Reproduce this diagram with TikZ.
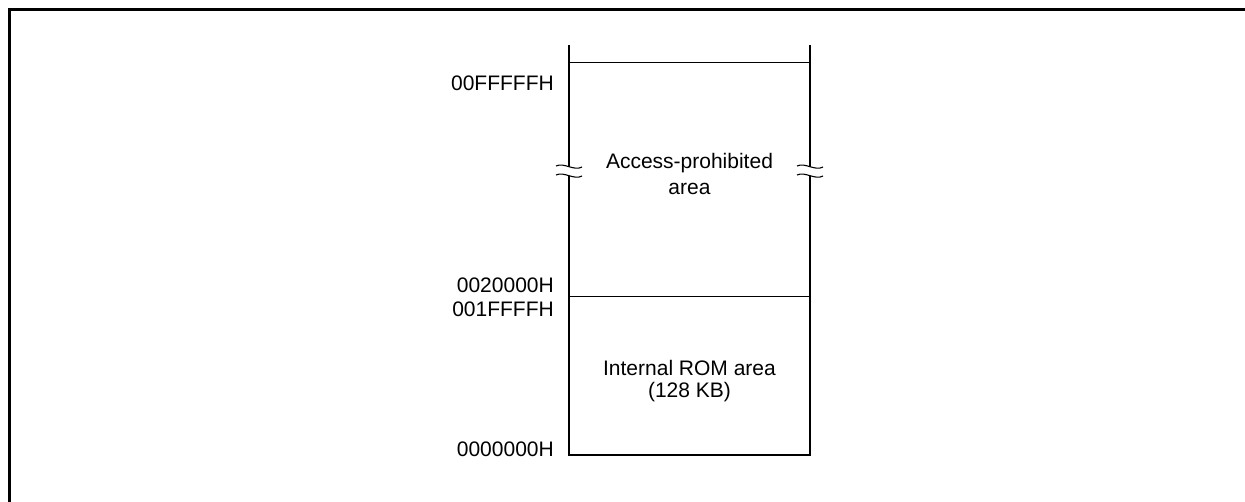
\documentclass[tikz,border=0pt]{standalone}
\usepackage{fontspec}
\setmainfont{Liberation Sans}
\begin{document}
\begin{tikzpicture}[x=1pt,y=-1pt,
  addr/.style={anchor=base east, inner sep=0pt, font=\fontsize{21}{25}\selectfont},
  area/.style={anchor=base, inner sep=0pt, align=center},
  wall/.style={line width=2.5pt},
  bound/.style={line width=0.9pt},
  brk/.style={line width=1.1pt},
  frame/.style={line width=3pt}]
\useasboundingbox (0,0) rectangle (1245,502);
\clip (0,0) rectangle (1245,502);
% outer frame (cut off at right and bottom)
\draw[frame] (9.5,520) -- (9.5,9.5) -- (1260,9.5);
% box corners
\coordinate (TL) at (569,45);
\coordinate (TR) at (810,45);
\coordinate (BL) at (569,455);
\coordinate (BR) at (810,455);
\coordinate (L1) at (569,167);
\coordinate (L2) at (569,176);
\coordinate (R1) at (810,167);
\coordinate (R2) at (810,176);
% walls
\draw[wall] (TL) -- (L1);
\draw[wall] (TR) -- (R1);
\draw[wall, line join=miter] (L2) -- (BL) -- (BR) -- (R2);
% break marks
\foreach \p in {L1,L2,R1,R2}{
  \draw[brk] ([xshift=-13pt,yshift=1pt]\p) .. controls ([xshift=-5pt,yshift=5pt]\p) and ([xshift=5pt,yshift=-4.5pt]\p) .. ([xshift=13pt]\p);
}
% boundaries
\draw[bound] (569,62) -- (810,62);
\draw[bound] (569,296) -- (810,296);
% addresses
\node[addr] (a1) at (554,91) {00FFFFFH};
\node[addr] (a2) at (554,292.5) {0020000H};
\node[addr] (a3) at (554,316.5) {001FFFFH};
\node[addr] (a4) at (554,456) {0000000H};
% area labels
\node[area, font=\fontsize{21}{26}\selectfont] (acc) at (689.5,195) {Access-prohibited\\area};
\node[area, font=\fontsize{21}{22}\selectfont] (rom) at (689.5,398) {Internal ROM area\\(128 KB)};
\end{tikzpicture}
\end{document}
